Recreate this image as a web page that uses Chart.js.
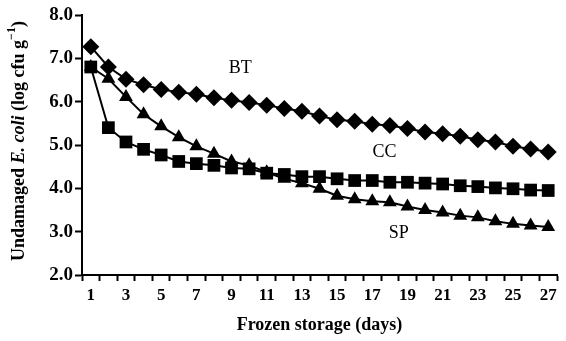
<!DOCTYPE html>
<html>
<head>
<meta charset="utf-8">
<script src="https://cdn.jsdelivr.net/npm/chart.js@4.4.1/dist/chart.umd.min.js"></script>
<style>
    html, body { margin: 0; padding: 0; background: #fff; }
    #wrap { width: 566px; height: 341px; }
</style>
</head>
<body>
<div id="wrap"><canvas id="chart"></canvas></div>
<script>
// days of frozen storage
const days = ['1', '2', '3', '4', '5', '6', '7', '8', '9', '10', '11', '12', '13', '14',
    '15', '16', '17', '18', '19', '20', '21', '22', '23', '24', '25', '26', '27'];

const seriesNames = ['BT', 'CC', 'SP'];

// undamaged E. coli, log cfu/g
const btValues = [7.27, 6.80, 6.52, 6.39, 6.28, 6.22, 6.17, 6.09, 6.03, 5.98, 5.92, 5.84, 5.78, 5.67,
    5.58, 5.55, 5.48, 5.45, 5.38, 5.30, 5.26, 5.20, 5.12, 5.07, 4.97, 4.91, 4.84];
const ccValues = [6.80, 5.40, 5.07, 4.90, 4.77, 4.62, 4.57, 4.53, 4.47, 4.45, 4.35, 4.32, 4.27, 4.27,
    4.22, 4.18, 4.18, 4.14, 4.14, 4.12, 4.10, 4.06, 4.04, 4.01, 3.99, 3.96, 3.95];
const spValues = [6.80, 6.53, 6.11, 5.71, 5.43, 5.18, 4.97, 4.80, 4.62, 4.53, 4.37, 4.22, 4.12, 3.99,
    3.83, 3.75, 3.70, 3.68, 3.58, 3.50, 3.44, 3.37, 3.33, 3.24, 3.18, 3.14, 3.11];

// where the series names sit (day index, value)
const nameAtIndex = [8.5, 16.7, 17.5];
const nameAtValue = [6.77, 4.83, 2.97];

const serif = '"Liberation Serif", "Times New Roman", serif';

function line(label, values, shape, radius) {
    return {
        label: label,
        data: values,
        borderColor: '#000',
        backgroundColor: '#000',
        borderWidth: 2,
        pointStyle: shape,
        pointRadius: radius,
        pointBorderWidth: 0,
        tension: 0
    };
}

// series names written next to the lines
const seriesNamePlugin = {
    id: 'seriesNames',
    afterDatasetsDraw(chart) {
        const ctx = chart.ctx;
        const x = chart.scales.x, y = chart.scales.y;
        ctx.save();
        ctx.fillStyle = '#000';
        ctx.font = '18px ' + serif;
        ctx.textAlign = 'center';
        ctx.textBaseline = 'middle';
        seriesNames.forEach(function(name, i) {
            ctx.fillText(name, x.getPixelForValue(nameAtIndex[i]), y.getPixelForValue(nameAtValue[i]));
        });
        ctx.restore();
    }
};

// y title with the italic species name and superscript
const yTitlePlugin = {
    id: 'yTitle',
    afterDraw(chart) {
        const ctx = chart.ctx;
        const normal = 'bold 18px ' + serif;
        const parts = [
            ['Undamaged ', normal, 0],
            ['E. coli', 'italic bold 18px ' + serif, 0],
            [' (log cfu g', normal, 0],
            ['\u22121', 'bold 12px ' + serif, -7],
            [')', normal, 0]
        ];
        let total = 0;
        parts.forEach(function(p) { ctx.font = p[1]; total += ctx.measureText(p[0]).width; });
        ctx.save();
        ctx.translate(19, 141);
        ctx.rotate(-Math.PI / 2);
        ctx.fillStyle = '#000';
        ctx.textBaseline = 'middle';
        ctx.textAlign = 'left';
        let pos = -total / 2;
        parts.forEach(function(p) {
            ctx.font = p[1];
            ctx.fillText(p[0], pos, p[2]);
            pos += ctx.measureText(p[0]).width;
        });
        ctx.restore();
    }
};

new Chart(document.getElementById('chart'), {
    type: 'line',
    data: {
        labels: days,
        datasets: [
            line(seriesNames[0], btValues, 'rectRot', 8.5),
            line(seriesNames[1], ccValues, 'rect', 9),
            line(seriesNames[2], spValues, 'triangle', 8)
        ]
    },
    options: {
        responsive: true,
        maintainAspectRatio: false,
        animation: false,
        layout: { padding: { top: 15, right: 3, left: 0, bottom: 0 } },
        plugins: {
            legend: { display: false },
            tooltip: { enabled: false }
        },
        scales: {
            x: {
                type: 'category',
                offset: true,
                afterFit: function(scale) { scale.height = 66; },
                grid: {
                    offset: true,
                    drawOnChartArea: false,
                    drawTicks: true,
                    tickLength: 6,
                    tickWidth: 2,
                    tickColor: '#000'
                },
                border: { color: '#000', width: 2 },
                ticks: {
                    autoSkip: false,
                    maxRotation: 0,
                    padding: 4,
                    color: '#000',
                    font: { family: serif, size: 17, weight: 'bold' },
                    callback: function(value, index) {
                        return index % 2 === 0 ? this.getLabelForValue(value) : '';
                    }
                },
                title: {
                    display: true,
                    text: 'Frozen storage (days)',
                    color: '#000',
                    font: { family: serif, size: 18, weight: 'bold' },
                    padding: { top: 0, bottom: 5 }
                }
            },
            y: {
                min: 2,
                max: 8,
                afterFit: function(scale) { scale.width = 82; },
                grid: {
                    drawOnChartArea: false,
                    drawTicks: true,
                    tickLength: 7,
                    tickWidth: 2,
                    tickColor: '#000'
                },
                border: { color: '#000', width: 2 },
                ticks: {
                    stepSize: 1,
                    padding: 2,
                    color: '#000',
                    font: { family: serif, size: 19, weight: 'bold' },
                    callback: function(value) { return value.toFixed(1); }
                }
            }
        }
    },
    plugins: [seriesNamePlugin, yTitlePlugin]
});
</script>
</body>
</html>
